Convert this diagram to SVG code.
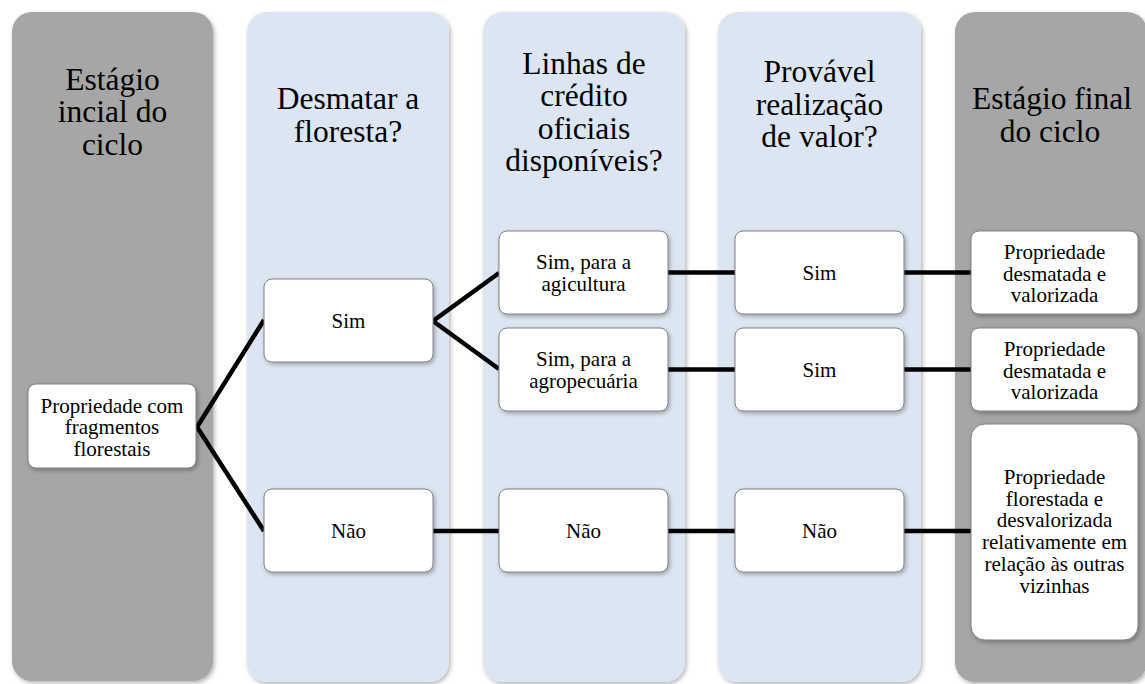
<svg xmlns="http://www.w3.org/2000/svg" width="1145" height="684" viewBox="0 0 1145 684">
<defs>
<filter id="sh" x="-10%" y="-10%" width="130%" height="130%">
<feDropShadow dx="1.5" dy="2" stdDeviation="2" flood-color="#000" flood-opacity="0.3"/>
</filter>
<style>
.colg{fill:#a6a6a6;filter:url(#sh)}
.colb{fill:#dce6f2;filter:url(#sh)}
.node{fill:#ffffff;stroke:#808080;stroke-width:1;filter:url(#sh)}
.title{font-family:"Liberation Serif","Times New Roman",serif;font-size:31.5px;fill:#000;text-anchor:middle}
.label{font-family:"Liberation Serif","Times New Roman",serif;font-size:21px;fill:#000;text-anchor:middle}
.conn{stroke:#000;stroke-width:4.5;fill:none;stroke-linecap:butt;stroke-linejoin:miter}
</style>
</defs>
<rect width="1145" height="684" fill="#ffffff"/>

<g id="col1">
<rect class="colg" x="12" y="12" width="201" height="669" rx="20"/>
<text class="title" x="112.5" y="89.5">Estágio</text>
<text class="title" x="112.5" y="122">incial do</text>
<text class="title" x="112.5" y="154.5">ciclo</text>
</g>
<g id="col2">
<rect class="colb" x="247" y="12" width="202" height="670" rx="20"/>
<text class="title" x="348" y="109">Desmatar a</text>
<text class="title" x="348" y="141.5">floresta?</text>
</g>
<g id="col3">
<rect class="colb" x="483" y="12" width="202" height="670" rx="20"/>
<text class="title" x="584" y="73.5">Linhas de</text>
<text class="title" x="584" y="106">crédito</text>
<text class="title" x="584" y="138.5">oficiais</text>
<text class="title" x="584" y="171">disponíveis?</text>
</g>
<g id="col4">
<rect class="colb" x="718" y="12" width="203" height="670" rx="20"/>
<text class="title" x="819.5" y="82">Provável</text>
<text class="title" x="819.5" y="114.5">realização</text>
<text class="title" x="819.5" y="147">de valor?</text>
</g>
<g id="col5">
<rect class="colg" x="955" y="12" width="192" height="670" rx="20"/>
<text class="title" x="1052" y="109">Estágio final</text>
<text class="title" x="1050" y="141.5">do ciclo</text>
</g>

<g id="connectors">
<polyline class="conn" points="264,320 197,427 264,531"/>
<polyline class="conn" points="499,273 433,321 499,369"/>
<line class="conn" x1="668" y1="272.5" x2="735" y2="272.5"/>
<line class="conn" x1="668" y1="369.5" x2="735" y2="369.5"/>
<line class="conn" x1="904" y1="272.5" x2="971" y2="272.5"/>
<line class="conn" x1="904" y1="369.5" x2="971" y2="369.5"/>
<line class="conn" x1="433" y1="531" x2="499" y2="531"/>
<line class="conn" x1="668" y1="531" x2="735" y2="531"/>
<line class="conn" x1="904" y1="531" x2="971" y2="531"/>
</g>

<g id="n-start">
<rect class="node" x="28" y="384" width="168" height="84" rx="8"/>
<text class="label" x="112" y="412.5">Propriedade com</text>
<text class="label" x="112" y="434">fragmentos</text>
<text class="label" x="112" y="455.5">florestais</text>
</g>
<g id="n-sim">
<rect class="node" x="264" y="279" width="169" height="83" rx="8"/>
<text class="label" x="348.5" y="328">Sim</text>
</g>
<g id="n-nao1">
<rect class="node" x="264" y="489" width="169" height="83" rx="8"/>
<text class="label" x="348.5" y="538">Não</text>
</g>
<g id="n-agri">
<rect class="node" x="499" y="231" width="169" height="83" rx="8"/>
<text class="label" x="583.5" y="269">Sim, para a</text>
<text class="label" x="583.5" y="290.5">agicultura</text>
</g>
<g id="n-agro">
<rect class="node" x="499" y="328" width="169" height="83" rx="8"/>
<text class="label" x="583.5" y="366">Sim, para a</text>
<text class="label" x="583.5" y="387.5">agropecuária</text>
</g>
<g id="n-nao2">
<rect class="node" x="499" y="489" width="169" height="83" rx="8"/>
<text class="label" x="583.5" y="538">Não</text>
</g>
<g id="n-sim2">
<rect class="node" x="735" y="231" width="169" height="83" rx="8"/>
<text class="label" x="819.5" y="280">Sim</text>
</g>
<g id="n-sim3">
<rect class="node" x="735" y="328" width="169" height="83" rx="8"/>
<text class="label" x="819.5" y="377">Sim</text>
</g>
<g id="n-nao3">
<rect class="node" x="735" y="489" width="169" height="83" rx="8"/>
<text class="label" x="819.5" y="538">Não</text>
</g>
<g id="n-end1">
<rect class="node" x="971" y="231" width="167" height="83" rx="8"/>
<text class="label" x="1054.5" y="259">Propriedade</text>
<text class="label" x="1054.5" y="280.5">desmatada e</text>
<text class="label" x="1054.5" y="302">valorizada</text>
</g>
<g id="n-end2">
<rect class="node" x="971" y="328" width="167" height="83" rx="8"/>
<text class="label" x="1054.5" y="356">Propriedade</text>
<text class="label" x="1054.5" y="377.5">desmatada e</text>
<text class="label" x="1054.5" y="399">valorizada</text>
</g>
<g id="n-end3">
<rect class="node" x="971" y="424" width="167" height="216" rx="14"/>
<text class="label" x="1054.5" y="484">Propriedade</text>
<text class="label" x="1054.5" y="505.7">florestada e</text>
<text class="label" x="1054.5" y="527.4">desvalorizada</text>
<text class="label" x="1054.5" y="549.1">relativamente em</text>
<text class="label" x="1054.5" y="570.8">relação às outras</text>
<text class="label" x="1054.5" y="592.5">vizinhas</text>
</g>
</svg>
